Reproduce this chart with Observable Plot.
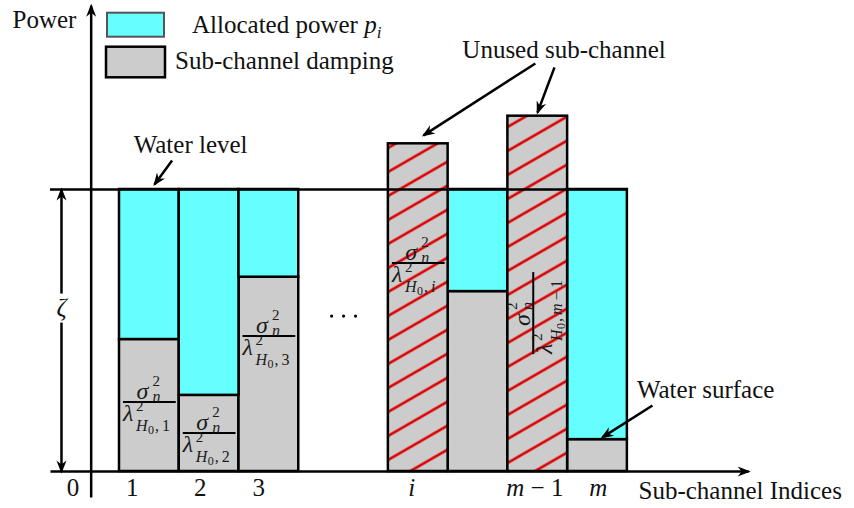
<!DOCTYPE html>
<html>
<head>
<meta charset="utf-8">
<script src="https://cdn.jsdelivr.net/npm/d3@7"></script>
<script src="https://cdn.jsdelivr.net/npm/@observablehq/plot@0.6"></script>
<style>
  html, body { margin: 0; padding: 0; background: #fff; }
</style>
</head>
<body>
<div id="chart"></div>
<script>
// ---- data -------------------------------------------------------------
// sub-channels in drawing order (the column after i has no tick label)
const channels = ["1", "2", "3", "i", "i+1", "m−1", "m"];
// left edge of each column, in column widths (a 1.5-column gap after channel 3)
const columnStart = [0, 1, 2, 4.5, 5.5, 6.5, 7.5];
// sub-channel damping σ²/λ², in units of the water level ζ
const damping = [0.468, 0.27, 0.689, 1.162, 0.638, 1.26, 0.113];
// water level ζ
const zeta = 1;
// tick labels along the index axis and where they sit
const tickText = ["0", "1", "2", "3", "i", "m − 1", "m"];
const tickAt = [-0.77, 0.22, 1.36, 2.34, 4.9, 6.96, 8.02];
// index written under each damping fraction, and the height of its fraction bar
const fracIndex = ["1", "2", "3", "i", null, "m−1", null];
const fracAt = [0.245, 0.135, 0.479, 0.738, null, 0.56, null];

// ---- derived tables ---------------------------------------------------
const bars = channels.map((c, k) => ({
  channel: c,
  x1: columnStart[k],
  x2: columnStart[k] + 1,
  damping: damping[k],
  unused: damping[k] >= zeta
}));
const used = bars.filter(b => !b.unused);
const unused = bars.filter(b => b.unused);
const centerOf = c => { const b = bars.find(d => d.channel === c); return (b.x1 + b.x2) / 2; };
const dampOf = c => bars.find(d => d.channel === c).damping;

const serif = "'Liberation Serif', 'Times New Roman', serif";
const ink = "#000";
const lw = 2.5;

// axis extents (data units)
const xAxisFrom = -1.155, xAxisTo = 10.53;
const yAxisAt = -0.474, yAxisFrom = -0.092, yAxisTo = 1.652;
const zetaAt = -0.971, zetaGap = [0.528, 0.631];
const lastEdge = columnStart[columnStart.length - 1] + 1;

// arrows: axes, the ζ span and the callouts
const arrows = [
  {x1: xAxisFrom, y1: 0, x2: xAxisTo, y2: 0},
  {x1: yAxisAt, y1: yAxisFrom, x2: yAxisAt, y2: yAxisTo},
  {x1: zetaAt, y1: zetaGap[1], x2: zetaAt, y2: zeta},
  {x1: zetaAt, y1: zetaGap[0], x2: zetaAt, y2: 0},
  // "Water level"
  {x1: 0.88, y1: 1.103, x2: centerOf("1") + 0.086, y2: zeta + 0.018},
  // "Unused sub-channel" -> i and m−1
  {x1: 6.96, y1: 1.447, x2: centerOf("i") + 0.088, y2: dampOf("i") + 0.03},
  {x1: 7.28, y1: 1.433, x2: centerOf("m−1") - 0.004, y2: dampOf("m−1") + 0.013},
  // "Water surface"
  {x1: 8.92, y1: 0.234, x2: centerOf("m") + 0.08, y2: dampOf("m") + 0.008}
];

const leftLabels = [
  {text: "Power", x: -1.79, y: 1.574},
  {text: "Sub-channel Indices", x: 8.686, y: -0.096}
];
const centeredLabels = [
  {text: "Water level", x: 1.19, y: 1.128},
  {text: "Unused sub-channel", x: 7.44, y: 1.468},
  {text: "Water surface", x: 9.81, y: 0.262}
];

// ellipsis between channel 3 and channel i
const gapMid = (columnStart[2] + 1 + columnStart[3]) / 2;
const ellipsis = [-0.2, 0, 0.2].map(d => ({x: gapMid + d, y: 0.551}));

const textStyle = {x: "x", y: "y", text: "text", lineAnchor: "bottom", fontSize: 25, fontFamily: serif, fill: "#111"};

// ---- plot -------------------------------------------------------------
const plot = Plot.plot({
  width: 854,
  height: 508,
  x: {domain: [-1.2, 10.6], range: [47.3, 752.35], axis: null},
  y: {domain: [0, 1.5], range: [471, 48], axis: null},
  style: {fontFamily: serif, background: "#fff", overflow: "visible"},
  marks: [
    // damping (gray) and allocated power (cyan) of the used sub-channels
    Plot.rect(used, {x1: "x1", x2: "x2", y1: 0, y2: "damping", fill: "#cccccc", stroke: ink, strokeWidth: lw}),
    Plot.rect(used, {x1: "x1", x2: "x2", y1: "damping", y2: zeta, fill: "#66ffff", stroke: ink, strokeWidth: lw}),
    // unused sub-channels, hatched
    Plot.rect(unused, {x1: "x1", x2: "x2", y1: 0, y2: "damping", fill: "url(#hatch)", stroke: ink, strokeWidth: lw}),
    // water level
    Plot.ruleY([zeta], {x1: xAxisFrom, x2: lastEdge, stroke: ink, strokeWidth: lw}),
    // axes and callout arrows
    Plot.link(arrows, {x1: "x1", y1: "y1", x2: "x2", y2: "y2", stroke: ink, strokeWidth: lw}),
    Plot.dot(ellipsis, {x: "x", y: "y", r: 1.6, fill: ink}),
    Plot.text(leftLabels, {...textStyle, textAnchor: "start"}),
    Plot.text(centeredLabels, {...textStyle, textAnchor: "middle"}),
    Plot.text([{x: zetaAt, y: (zetaGap[0] + zetaGap[1]) / 2}], {x: "x", y: "y", text: () => "ζ",
      fontSize: 25, fontStyle: "italic", fontFamily: serif, fill: "#111"})
  ]
});
document.getElementById("chart").append(plot);

// ---- decorations drawn through the plot's scales -----------------------
const svg = d3.select(plot);
const sx = plot.scale("x"), sy = plot.scale("y");
const px = d3.scaleLinear(sx.domain, sx.range);
const py = d3.scaleLinear(sy.domain, sy.range);

const defs = svg.insert("defs", ":first-child");
const pat = defs.append("pattern")
  .attr("id", "hatch").attr("patternUnits", "userSpaceOnUse")
  .attr("width", 40).attr("height", 24).attr("patternTransform", "skewY(-30)");
pat.append("rect").attr("width", 40).attr("height", 24).attr("fill", "#cccccc");
pat.append("line").attr("x1", 0).attr("x2", 40).attr("y1", 12).attr("y2", 12)
  .attr("stroke", "#dd0000").attr("stroke-width", 2.9);

const mk = defs.append("marker")
  .attr("id", "stealth").attr("markerUnits", "userSpaceOnUse").attr("orient", "auto")
  .attr("markerWidth", 24).attr("markerHeight", 24).attr("refX", 0).attr("refY", 0)
  .attr("viewBox", "-12 -12 24 24")
  .attr("overflow", "visible");
mk.append("path").attr("d", "M2,0 L-11,-5 L-7,0 L-11,5 Z").attr("fill", ink).attr("stroke", "none");
svg.selectAll('g[aria-label="link"] path').attr("marker-end", "url(#stealth)");

// text helper: parts = [[string, italic], ...]
function put(g, parts, x, y, size, anchor = "start", fill = "#1a1a1a") {
  const t = g.append("text").attr("x", x).attr("y", y)
    .attr("font-family", serif).attr("font-size", size)
    .attr("text-anchor", anchor).attr("fill", fill);
  for (const [s, it] of parts) t.append("tspan").attr("font-style", it ? "italic" : "normal").text(s);
  return t;
}
const idxParts = s => s === "m−1" ? [["m", true], ["\u2009−\u20091", false]]
  : /^[0-9]+$/.test(s) ? [[s, false]] : [[s, true]];

// σ_n² / λ²_{H0,k}, fraction bar from x0 to x0 + w at local y = 0
function fraction(g, x0, w, k) {
  g.append("line").attr("x1", x0).attr("x2", x0 + w).attr("y1", 0).attr("y2", 0)
    .attr("stroke", ink).attr("stroke-width", 2);
  const cx = x0 + w / 2;
  put(g, [["σ", true]], cx - 13, -3, 24);
  put(g, [["2", false]], cx + 3, -16, 15);
  put(g, [["n", true]], cx + 3, 0, 16);
  put(g, [["λ", true]], x0, 19, 24);
  put(g, [["2", false]], x0 + 13, 9, 15);
  put(g, [["H", true]], x0 + 13, 29, 16);
  put(g, [["0", false]], x0 + 25, 32, 12);
  put(g, [[",", false]], x0 + 32, 29, 16);
  put(g, idxParts(k), x0 + 39, 29, 16);
}

const notes = svg.append("g");
bars.forEach((b, k) => {
  const idx = fracIndex[k];
  if (!idx) return;
  const y = py(fracAt[k]);
  if (idx === "m−1") {
    const cx = (px(b.x1) + px(b.x2)) / 2 - 4;
    const g = notes.append("g").attr("transform", `translate(${cx},${y}) rotate(-90)`);
    fraction(g, -41, 82, idx);
  } else {
    const x0 = px(b.x1) + 4, x1 = px(b.x2) - 3;
    const g = notes.append("g").attr("transform", `translate(0,${y})`);
    fraction(g, x0, x1 - x0, idx);
  }
});

// tick labels along the index axis
tickText.forEach((s, k) => {
  const parts = s === "m − 1" ? [["m", true], [" − 1", false]]
    : /^[0-9]+$/.test(s) ? [[s, false]] : [[s, true]];
  put(notes, parts, px(tickAt[k]), py(0) + 25, 25, "middle", "#111");
});

// legend
const lg = svg.append("g");
lg.append("rect").attr("x", 107).attr("y", 12.7).attr("width", 57).attr("height", 24)
  .attr("fill", "#66ffff").attr("stroke", "#555").attr("stroke-width", 2);
lg.append("rect").attr("x", 106).attr("y", 46.7).attr("width", 59).attr("height", 30.6)
  .attr("fill", "#cccccc").attr("stroke", ink).attr("stroke-width", lw);
const t1 = put(lg, [["Allocated power ", false], ["p", true]], 192, 33, 25, "start", "#111");
t1.append("tspan").attr("font-style", "italic").attr("font-size", 17).attr("dy", 5).text("i");
put(lg, [["Sub-channel damping", false]], 175, 69, 25, "start", "#111");
</script>
</body>
</html>
